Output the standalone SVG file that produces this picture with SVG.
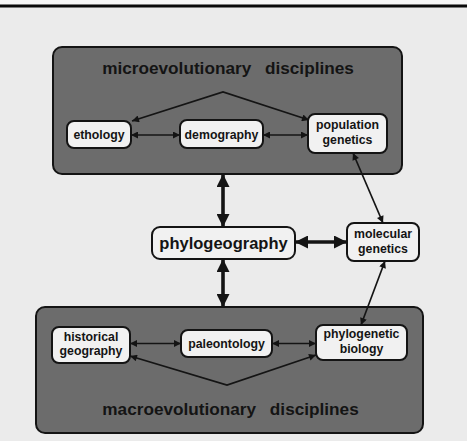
<svg xmlns="http://www.w3.org/2000/svg" width="467" height="441" viewBox="0 0 467 441">
<style>
.bg{fill:#ebebeb}
.panel{fill:#6c6c6c;stroke:#141414;stroke-width:2}
.node{fill:#f1f1f1;stroke:#141414;stroke-width:2}
.t{font-family:"Liberation Sans",Arial,Helvetica,sans-serif;font-weight:bold;fill:#141414;text-anchor:middle}
.n{font-size:12.3px}
.big{font-size:16.5px}
.title{font-size:17.2px;word-spacing:9px}
.thin{stroke:#141414;stroke-width:1.7;fill:none;marker-start:url(#ah);marker-end:url(#ah)}
.one{stroke:#141414;stroke-width:1.7;fill:none;marker-end:url(#ah)}
.thick{stroke:#141414;stroke-width:3.6;fill:none;marker-start:url(#ahb);marker-end:url(#ahb)}
</style>
<defs>
<marker id="ah" viewBox="0 0 10 10" refX="10" refY="5" markerUnits="userSpaceOnUse" markerWidth="9" markerHeight="7" orient="auto-start-reverse">
<path d="M0,0 L10,5 L0,10 z" fill="#141414"/>
</marker>
<marker id="ahb" viewBox="0 0 10 10" refX="10" refY="5" markerUnits="userSpaceOnUse" markerWidth="13" markerHeight="13" orient="auto-start-reverse">
<path d="M0,0 L10,5 L0,10 z" fill="#141414"/>
</marker>
</defs>
<rect class="bg" x="0" y="0" width="467" height="441"/>
<rect x="0" y="0" width="467" height="4.5" fill="#f6f6f6"/>
<rect x="0" y="4.5" width="467" height="3" fill="#0a0a0a"/>

<g id="micro">
<rect class="panel" x="53" y="47" width="349" height="127" rx="9"/>
<text class="t title" x="228" y="74">microevolutionary disciplines</text>
</g>
<g id="macro">
<rect class="panel" x="36" y="307" width="387" height="126" rx="9"/>
<text class="t title" x="230.5" y="415">macroevolutionary disciplines</text>
</g>

<g id="connectors">
<line class="thin" x1="131" y1="135" x2="180" y2="135"/>
<line class="thin" x1="263" y1="135" x2="308" y2="135"/>
<polyline class="thin" points="132,121 223,92 309,120"/>
<line class="thick" x1="223" y1="174" x2="223" y2="227"/>
<line class="thick" x1="223" y1="259" x2="223" y2="307"/>
<line class="thick" x1="295" y1="242" x2="347" y2="242"/>
<line class="thin" x1="353" y1="153" x2="383" y2="223"/>
<line class="thin" x1="385" y1="261" x2="361" y2="325"/>
<line class="thin" x1="130" y1="343.5" x2="181" y2="343.5"/>
<line class="thin" x1="272" y1="343.5" x2="316" y2="343.5"/>
<polyline class="thin" points="130,356 227,385 316,355"/>
</g>

<g id="ethology">
<rect class="node" x="67" y="121" width="64" height="27" rx="7"/>
<text class="t n" x="99" y="139">ethology</text>
</g>
<g id="demography">
<rect class="node" x="180" y="120" width="83" height="28" rx="7"/>
<text class="t n" x="221.5" y="139">demography</text>
</g>
<g id="population-genetics">
<rect class="node" x="308" y="114" width="79" height="39" rx="7"/>
<text class="t n" x="347.5" y="129">population</text>
<text class="t n" x="347.5" y="144">genetics</text>
</g>
<g id="phylogeography">
<rect class="node" x="152" y="227" width="143" height="32" rx="8"/>
<text class="t big" x="223.5" y="249">phylogeography</text>
</g>
<g id="molecular-genetics">
<rect class="node" x="347" y="223" width="72" height="38" rx="7"/>
<text class="t n" x="383" y="238">molecular</text>
<text class="t n" x="383" y="253">genetics</text>
</g>
<g id="historical-geography">
<rect class="node" x="52" y="327" width="78" height="36" rx="7"/>
<text class="t n" x="91" y="341">historical</text>
<text class="t n" x="91" y="355">geography</text>
</g>
<g id="paleontology">
<rect class="node" x="181" y="330" width="91" height="27" rx="7"/>
<text class="t n" x="226.5" y="348">paleontology</text>
</g>
<g id="phylogenetic-biology">
<rect class="node" x="316" y="325" width="91" height="35" rx="7"/>
<text class="t n" x="361.5" y="338">phylogenetic</text>
<text class="t n" x="361.5" y="353">biology</text>
</g>
</svg>
